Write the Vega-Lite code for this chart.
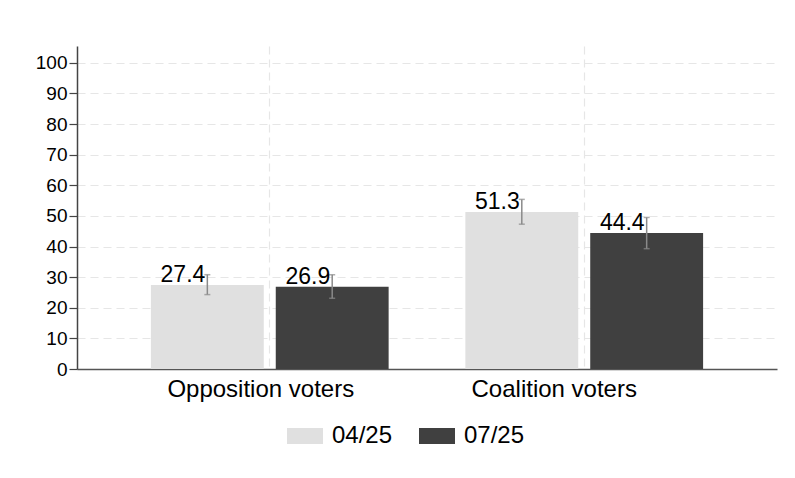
{
  "$schema": "https://vega.github.io/schema/vega-lite/v6.json",
  "autosize": {"type": "none"},
  "padding": {"left": 77, "top": 46, "right": 18, "bottom": 109},
  "width": 700,
  "height": 323,
  "background": "white",
  "config": {
    "view": {"stroke": null},
    "font": "Liberation Sans",
    "axis": {"labelFont": "Liberation Sans", "labelColor": "black"},
    "axisY": {
      "title": null,
      "labelOverlap": false,
      "labelFontSize": 19,
      "tickSize": 8,
      "labelPadding": 2,
      "tickColor": "#444444",
      "domainColor": "#444444",
      "domainWidth": 1.5,
      "tickWidth": 1.2,
      "grid": true,
      "gridColor": "#e6e6e6",
      "gridDash": [8, 5],
      "gridWidth": 1.2
    }
  },
  "data": {
    "values": [
      {"group": "Opposition voters", "period": "04/25", "value": 27.4, "lo": 24.3, "hi": 30.8},
      {"group": "Opposition voters", "period": "07/25", "value": 26.9, "lo": 23.1, "hi": 30.8},
      {"group": "Coalition voters", "period": "04/25", "value": 51.3, "lo": 47.3, "hi": 55.4},
      {"group": "Coalition voters", "period": "07/25", "value": 44.4, "lo": 39.3, "hi": 49.5}
    ]
  },
  "encoding": {
    "x": {
      "field": "group",
      "type": "nominal",
      "sort": ["Opposition voters", "Coalition voters"],
      "scale": {"paddingInner": 0.244, "paddingOuter": 0.235},
      "axis": {
        "title": null,
        "labelAngle": 0,
        "labelFontSize": 24,
        "labelPadding": 8,
        "labelLimit": 0,
        "labelOverlap": false,
        "ticks": false,
        "domainColor": "#555555",
        "domainWidth": 1.5,
        "grid": true,
        "bandPosition": 0.5,
        "gridColor": "#e6e6e6",
        "gridDash": [8, 5],
        "gridWidth": 1.2,
        "labelOffset": {"condition": {"test": "datum.value === 'Coalition voters'", "value": -30}, "value": -9}
      }
    },
    "xOffset": {
      "field": "period",
      "type": "nominal",
      "sort": ["04/25", "07/25"],
      "scale": {"paddingInner": 0.096, "paddingOuter": 0}
    }
  },
  "layer": [
    {
      "mark": {"type": "bar"},
      "encoding": {
        "y": {
          "field": "value",
          "type": "quantitative",
          "scale": {"domain": [0, 105.5], "nice": false, "zero": true},
          "axis": {"values": [0, 10, 20, 30, 40, 50, 60, 70, 80, 90, 100]}
        },
        "color": {
          "field": "period",
          "type": "nominal",
          "sort": ["04/25", "07/25"],
          "scale": {"range": ["#e0e0e0", "#404040"]},
          "legend": {
            "title": null,
            "orient": "none",
            "direction": "horizontal",
            "legendX": 210,
            "legendY": 372,
            "padding": 0,
            "offset": 0,
            "labelFontSize": 24,
            "labelFont": "Liberation Sans",
            "labelColor": "black",
            "labelOffset": 9,
            "columnPadding": 26,
            "symbolType": "M-1,-0.444H1V0.444H-1Z",
            "symbolSize": 1296,
            "symbolStrokeWidth": 0,
            "symbolOpacity": 1
          }
        }
      }
    },
    {
      "mark": {"type": "rule", "color": "#8a8a8a", "strokeWidth": 1.5},
      "encoding": {
        "y": {"field": "lo", "type": "quantitative", "axis": {"values": [0, 10, 20, 30, 40, 50, 60, 70, 80, 90, 100]}},
        "y2": {"field": "hi"}
      }
    },
    {
      "mark": {"type": "tick", "color": "#8a8a8a", "size": 6, "thickness": 1.5},
      "encoding": {
        "y": {"field": "lo", "type": "quantitative", "axis": {"values": [0, 10, 20, 30, 40, 50, 60, 70, 80, 90, 100]}}
      }
    },
    {
      "mark": {"type": "tick", "color": "#8a8a8a", "size": 6, "thickness": 1.5},
      "encoding": {
        "y": {"field": "hi", "type": "quantitative", "axis": {"values": [0, 10, 20, 30, 40, 50, 60, 70, 80, 90, 100]}}
      }
    },
    {
      "mark": {"type": "text", "align": "right", "baseline": "alphabetic", "dx": -2, "dy": -3, "fontSize": 23, "font": "Liberation Sans", "color": "black"},
      "encoding": {
        "y": {"field": "value", "type": "quantitative", "axis": {"values": [0, 10, 20, 30, 40, 50, 60, 70, 80, 90, 100]}},
        "text": {"field": "value", "type": "quantitative", "format": ".1f"}
      }
    }
  ]
}
